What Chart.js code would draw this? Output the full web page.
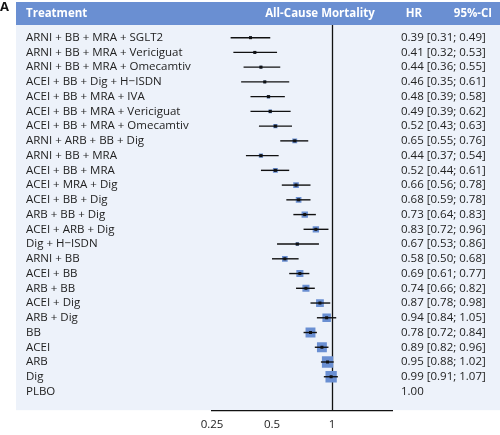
<!DOCTYPE html>
<html><head><meta charset="utf-8">
<script src="https://cdn.jsdelivr.net/npm/chart.js@4/dist/chart.umd.min.js"></script>
<style>html,body{margin:0;padding:0;background:#fff}#w{width:500px;height:435px;position:relative}</style>
</head><body><div id="w"><canvas id="c"></canvas></div>
<script>
const treatments = ["ARNI + BB + MRA + SGLT2","ARNI + BB + MRA + Vericiguat","ARNI + BB + MRA + Omecamtiv","ACEI + BB + Dig + H\u2212ISDN","ACEI + BB + MRA + IVA","ACEI + BB + MRA + Vericiguat","ACEI + BB + MRA + Omecamtiv","ARNI + ARB + BB + Dig","ARNI + BB + MRA","ACEI + BB + MRA","ACEI + MRA + Dig","ACEI + BB + Dig","ARB + BB + Dig","ACEI + ARB + Dig","Dig + H\u2212ISDN","ARNI + BB","ACEI + BB","ARB + BB","ACEI + Dig","ARB + Dig","BB","ACEI","ARB","Dig","PLBO"];
const hr =    [0.39,0.41,0.44,0.46,0.48,0.49,0.52,0.65,0.44,0.52,0.66,0.68,0.73,0.83,0.67,0.58,0.69,0.74,0.87,0.94,0.78,0.89,0.95,0.99,1.00];
const lower = [0.31,0.32,0.36,0.35,0.39,0.39,0.43,0.55,0.37,0.44,0.56,0.59,0.64,0.72,0.53,0.50,0.61,0.66,0.78,0.84,0.72,0.82,0.88,0.91,null];
const upper = [0.49,0.53,0.55,0.61,0.58,0.62,0.63,0.76,0.54,0.61,0.78,0.78,0.83,0.96,0.86,0.68,0.77,0.82,0.98,1.05,0.84,0.96,1.02,1.07,null];
const weight = [2,2,2,2,2.5,2.5,3,3.5,3,3.5,4,4,4.5,4.5,2.5,4,5,5,5.5,6,7,7,8,8,0];
const xTicks = [0.25,0.5,1];
const header = {treat:"Treatment", title:"All-Cause Mortality", hr:"HR", ci:"95%-CI"};

const F = '"Open Sans", sans-serif';
const fmt = v => v.toFixed(2);
const ciText = i => lower[i]==null ? fmt(hr[i]) : `${fmt(hr[i])} [${fmt(lower[i])}; ${fmt(upper[i])}]`;

const deco = {
  id:'deco',
  beforeDraw(ch){
    const c=ch.ctx, a=ch.chartArea;
    c.save();
    c.fillStyle='#edf2fa'; c.fillRect(16,25,484,a.bottom-25);
    c.fillStyle='#6a8fd2'; c.fillRect(16,2,484,23);
    c.fillStyle='#fff'; c.font='bold 11.5px '+F; c.textBaseline='middle';
    c.textAlign='left'; c.fillText(header.treat,26,13.5);
    c.textAlign='center'; c.fillText(header.title,320,13.5);
    c.fillText(header.hr,414,13.5); c.fillText(header.ci,473,13.5);
    c.fillStyle='#111'; c.font='bold 13px '+F; c.textAlign='left'; c.fillText('A',0,7);
    const x=ch.scales.x, y=ch.scales.y;
    c.strokeStyle='#111'; c.lineWidth=1.3;
    const x1=Math.round(x.getPixelForValue(1))+0.5;
    c.beginPath(); c.moveTo(x1,25); c.lineTo(x1,a.bottom); c.stroke();
    c.font='11.5px '+F; c.fillStyle='#222';
    treatments.forEach((t,i)=>{
      const py=y.getPixelForValue(i);
      c.textAlign='left'; c.fillText(t,26,py);
      c.fillText(ciText(i),401,py);
    });
    c.restore();
  },
  afterDatasetsDraw(ch){
    const c=ch.ctx, x=ch.scales.x, y=ch.scales.y;
    c.save(); c.strokeStyle='#111'; c.lineWidth=1.4; c.fillStyle='#111';
    hr.forEach((v,i)=>{
      if(lower[i]==null) return;
      const py=y.getPixelForValue(i);
      c.beginPath(); c.moveTo(x.getPixelForValue(lower[i]),py); c.lineTo(x.getPixelForValue(upper[i]),py); c.stroke();
      const px=x.getPixelForValue(v);
      c.fillRect(px-1.5,py-1.5,3,3);
    });
    c.restore();
  }
};

new Chart(document.getElementById('c'),{
  type:'scatter',
  data:{datasets:[{
    data:hr.map((v,i)=>({x:v,y:i})),
    pointStyle:'rect',
    pointRadius:weight,
    pointHoverRadius:weight,
    backgroundColor:'#6a8fd2',
    borderWidth:0
  }]},
  options:{
    responsive:true, maintainAspectRatio:false, animation:false,
    layout:{padding:{left:212,right:108,top:25,bottom:0}},
    plugins:{legend:{display:false},tooltip:{enabled:false}},
    scales:{
      x:{type:'logarithmic',min:0.25,max:2,
        afterBuildTicks:s=>{s.ticks=xTicks.map(v=>({value:v}));},
        ticks:{font:{family:F,size:11.5},color:'#222',maxRotation:0,padding:3,callback:v=>String(v)},
        grid:{display:false,drawTicks:true,tickLength:5,tickColor:'#111'},
        border:{color:'#111',width:1.3}},
      y:{type:'linear',reverse:true,min:-0.86,max:25.27,display:false}
    }
  },
  plugins:[deco]
});
</script></body></html>
